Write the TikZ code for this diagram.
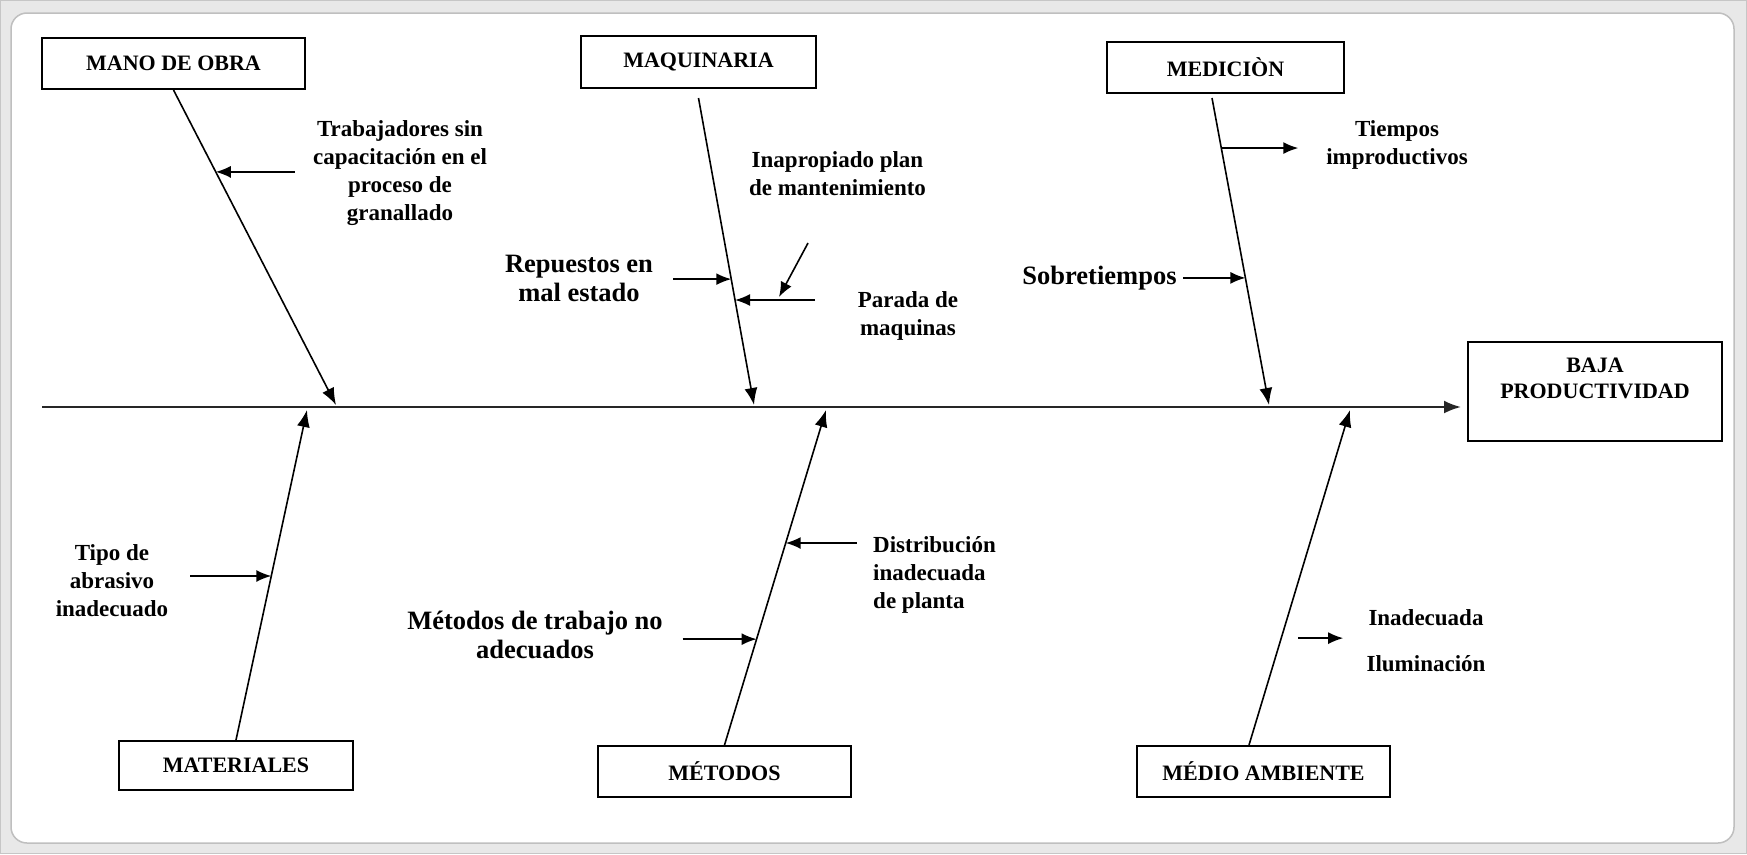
\documentclass[tikz,border=0pt]{standalone}
\usepackage{fontspec}
\setmainfont{Liberation Serif}
\usepackage{tikz}
\usetikzlibrary{arrows.meta,calc}
\tikzstyle{causa} = [rectangle, draw, line width=2pt, fill=white,
    font=\bfseries\fontsize{22}{26}\selectfont, inner sep=0pt]
\tikzstyle{rama} = [draw, line width=1.6pt, -{Latex[length=17pt,width=13pt]}]
\tikzstyle{flecha} = [draw, line width=1.6pt, -{Latex[length=15pt,width=12pt]}]
\tikzstyle{chica} = [font=\bfseries\fontsize{23}{28}\selectfont, align=center, inner sep=0pt]
\tikzstyle{grande} = [font=\bfseries\fontsize{26.5}{29}\selectfont, align=center, inner sep=0pt]

\begin{document}
\begin{tikzpicture}[x=1pt, y=-1pt]
        \useasboundingbox (0,0) rectangle (1747,854);
        % Frame
        \fill[gray!18] (0,0) rectangle (1747,854);
        \draw[gray!45, line width=1pt] (0.5,0.5) rectangle (1746.5,853.5);
        \draw[gray!50, fill=white, line width=1.5pt, rounded corners=16pt] (11,13) rectangle (1734,843);

        % Categories
        \node [causa, minimum width=263pt, minimum height=51pt] (mano) at (173.5,63.5) {MANO DE OBRA};
        \node [causa, minimum width=235pt, minimum height=52pt] (maq) at (698.5,62) {MAQUINARIA};
        \node [causa, minimum width=237pt, minimum height=51pt] (medi) at (1225.5,67.5) {MEDICIÒN};
        \node [causa, minimum width=234pt, minimum height=49pt] (mat) at (236,765.5) {MATERIALES};
        \node [causa, minimum width=253pt, minimum height=51pt] (meto) at (724.5,771.5) {MÉTODOS};
        \node [causa, minimum width=253pt, minimum height=51pt] (amb) at (1263.5,771.5) {MÉDIO AMBIENTE};
        \node [causa, align=center, minimum width=254pt, minimum height=99pt] (efecto) at (1595,391.5)
            {BAJA\\PRODUCTIVIDAD\\\mbox{}};

        % Spine
        \coordinate (cola) at (42,407);
        \draw [rama, line width=2.2pt, black!85] (cola) -- ([xshift=-6pt]cola -| efecto.west);

        % Branches
        \coordinate (pMano) at (336,405);
        \coordinate (pMaq) at (754,405);
        \coordinate (pMed) at (1269,405);
        \coordinate (pMat) at (307,410);
        \coordinate (pMet) at (826,410);
        \coordinate (pAmb) at (1350,410);
        \coordinate (sMaq) at ([yshift=-9pt]maq.south);
        \coordinate (sMed) at ([xshift=-13.5pt,yshift=-4pt]medi.south);
        \coordinate (sAmb) at ([xshift=-14.5pt]amb.north);
        \path [rama] (mano.south) -- (pMano);
        \path [rama] (sMaq) -- (pMaq);
        \path [rama] (sMed) -- (pMed);
        \path [rama] (mat.north) -- (pMat);
        \path [rama] (meto.north) -- (pMet);
        \path [rama] (sAmb) -- (pAmb);

        % Points on the branches
        \coordinate (c1) at ($(mano.south)!0.26!(pMano)$);
        \coordinate (c2) at ($(sMaq)!0.59!(pMaq)$);
        \coordinate (c3) at ($(sMaq)!0.658!(pMaq)$);
        \coordinate (c4) at ($(sMed)!0.163!(pMed)$);
        \coordinate (c5) at ($(sMed)!0.586!(pMed)$);
        \coordinate (c6) at ($(mat.north)!0.497!(pMat)$);
        \coordinate (c7) at ($(meto.north)!0.603!(pMet)$);
        \coordinate (c8) at ($(meto.north)!0.316!(pMet)$);
        \coordinate (c9) at ($(sAmb)!0.319!(pAmb)$);
        \coordinate (parada) at ([xshift=80pt]c3);
        \coordinate (c10) at ($(parada)!0.45!(c3)$);

        % Causes
        \path [flecha] ([xshift=79pt]c1) -- (c1);
        \path [flecha] ([xshift=-58pt]c2) -- (c2);
        \path [flecha] (parada) -- (c3);
        \path [flecha] ([xshift=29pt,yshift=57pt]c10) -- ([yshift=3pt]c10);
        \path [flecha] (c4) -- ([xshift=77pt]c4);
        \path [flecha] ([xshift=-62pt]c5) -- (c5);
        \path [flecha] ([xshift=-81pt]c6) -- (c6);
        \path [flecha] ([xshift=71pt]c7) -- (c7);
        \path [flecha] ([xshift=-74pt]c8) -- (c8);
        \path [flecha] ([xshift=17pt]c9) -- ([xshift=62pt]c9);

        % Labels
        \node [chica] (trab) at (400,173.5) {Trabajadores sin\\capacitación en el\\proceso de\\granallado};
        \node [chica] (inap) at (837.5,174) {Inapropiado plan\\de mantenimiento};
        \node [grande] (rep) at (579,278) {Repuestos en\\mal estado};
        \node [chica] (par) at (908,315.5) {Parada de\\maquinas};
        \node [chica] (tiem) at (1397,145) {Tiempos\\improductivos};
        \node [grande] (sobre) at (1099.5,278) {Sobretiempos};
        \node [chica] (tipo) at (112,581) {Tipo de\\abrasivo\\inadecuado};
        \node [chica, align=left, anchor=west] (dist) at (873,575) {Distribución\\inadecuada\\de planta};
        \node [grande] (mtr) at (535,634.5) {Métodos de trabajo no\\adecuados};
        \node [chica] (ilum) at (1426,641) {Inadecuada\\[18pt]Iluminación};
    \end{tikzpicture}
\end{document}
